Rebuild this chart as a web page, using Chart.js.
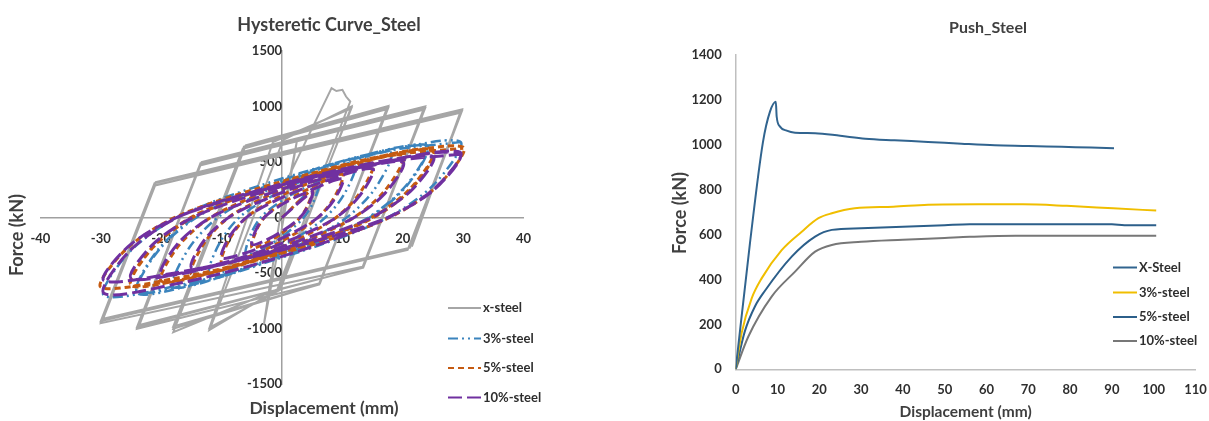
<!DOCTYPE html>
<html>
<head>
<meta charset="utf-8">
<script src="https://cdn.jsdelivr.net/npm/chart.js@4.4.1/dist/chart.umd.min.js"></script>
<style>
  body { margin: 0; background: #fff; }
  #wrap { position: relative; width: 1209px; height: 421px; }
  canvas { position: absolute; top: 0; }
</style>
</head>
<body>
<div id="wrap">
  <canvas id="hyst" width="600" height="421" style="left:0"></canvas>
  <canvas id="push" width="609" height="421" style="left:600px"></canvas>
</div>
<script>
// ---- hysteretic curves (displacement mm / force kN)
const xSteelDisp = [0, 2.5, -0.5, -3, 0.5, 8.2, 9.0, 10.0, 10.6, 11.3, -0.8, -12, 0.2, 11.5, -0.3, -12, -1.5, 11.5, -0.5, -18, -6, 17.6, 6.1, -18, -6.3, 17.6, 6.2, -18, -6.5, 17.3, 6.3, -24, -13.3, 23.7, 13.3, -24, -13.5, 23.7, 13.45, -23.6, -13.6, 23.4, 13.5, -30, -20.9, 29.8, 20.8, -30, -21.1, 29.8, 21.2, -29.6, -21, 29.5, 21.5];
const xSteelForce = [0, 700, -250, -960, 300, 1166, 1140, 1150, 1090, 1045, -650, -1010, 700, 1000, -650, -990, 680, 985, -640, -1030, 650, 1005, -600, -1000, 640, 990, -600, -980, 620, 975, -590, -1000, 500, 1000, -450, -985, 490, 985, -450, -965, 470, 970, -440, -950, 320, 975, -290, -930, 310, 960, -270, -910, 290, 945, -260];

const steel3Disp = [0, 6, 5.1, 3.3, -0.3, -3.6, -6, -5.1, -3.3, 0.3, 3.6, 12, 10.2, 6.6, -0.6, -7.2, -12, -10.2, -6.6, 0.6, 7.2, 18, 15.3, 9.9, -0.9, -10.8, -18, -15.3, -9.9, 0.9, 10.8, 24, 20.4, 13.2, -1.2, -14.4, -24, -20.4, -13.2, 1.2, 14.4, 24, 20.4, 13.2, -1.2, -14.4, -24, -20.4, -13.2, 1.2, 14.4, 29.5, 25.1, 16.2, -1.5, -17.7, -29.5, -25.1, -16.2, 1.5, 17.7, 29.5];
const steel3Force = [0, 300, 129, -17, -182, -290, -330, -142, 15, 165, 264, 470, 202, -25, -275, -440, -500, -215, 24, 259, 414, 590, 254, -31, -341, -546, -620, -267, 30, 325, 519, 650, 280, -34, -374, -598, -680, -292, 33, 358, 572, 635, 270, -40, -360, -585, -665, -280, 40, 345, 560, 685, 295, -35, -385, -616, -700, -301, 34, 377, 603, 680];

const steel5Disp = [0, 5, 4.25, 2.75, -0.25, -3, -5, -4.25, -2.75, 0.25, 3, 10, 8.5, 5.5, -0.5, -6, -10, -8.5, -5.5, 0.5, 6, 15, 12.75, 8.25, -0.75, -9, -15, -12.75, -8.25, 0.75, 9, 20, 17, 11, -1, -12, -20, -17, -11, 1, 12, 25, 21.25, 13.75, -1.25, -15, -25, -21.25, -13.75, 1.25, 15, 25, 21.25, 13.75, -1.25, -15, -25, -21.25, -13.75, 1.25, 15, 30, 25.5, 16.5, -1.5, -18, -30, -25.5, -16.5, 1.5, 18, 30];
const steel5Force = [0, 250, 108, -14, -149, -238, -270, -116, 13, 138, 220, 390, 168, -21, -226, -361, -410, -176, 20, 215, 343, 490, 211, -26, -281, -449, -510, -219, 25, 270, 431, 560, 241, -29, -314, -502, -570, -245, 28, 308, 493, 610, 262, -31, -336, -537, -610, -262, 31, 336, 537, 595, 250, -40, -325, -525, -600, -255, 40, 325, 525, 635, 273, -31, -344, -550, -625, -269, 32, 349, 559, 625];

const steel10Disp = [0, 5, 4.25, 2.75, -0.25, -3, -5, -4.25, -2.75, 0.25, 3, 10, 8.5, 5.5, -0.5, -6, -10, -8.5, -5.5, 0.5, 6, 15, 12.75, 8.25, -0.75, -9, -15, -12.75, -8.25, 0.75, 9, 20, 17, 11, -1, -12, -20, -17, -11, 1, 12, 25, 21.25, 13.75, -1.25, -15, -25, -21.25, -13.75, 1.25, 15, 29.5, 25.1, 16.2, -1.5, -17.7, -29.5, -25.1, -16.2, 1.5, 17.7, 29.5, 25.1, 16.2, -1.5, -17.7, -29.5, -25.1, -16.2, 1.5, 17.7, 29.5];
const steel10Force = [0, 230, 99, -12, -132, -211, -240, -103, 12, 127, 202, 350, 151, -18, -198, -317, -360, -155, 18, 193, 308, 440, 189, -23, -248, -396, -450, -194, 22, 242, 387, 500, 215, -26, -281, -449, -510, -219, 25, 275, 440, 550, 237, -27, -300, -480, -545, -234, 28, 303, 484, 590, 254, -34, -374, -598, -680, -292, 30, 325, 519, 575, 247, -28, -311, -497, -565, -243, 29, 316, 506, 570];

// ---- pushover curves
const pushXDisp = [0, 3.4, 6.5, 8.2, 9.6, 9.8, 10.6, 12.2, 14.2, 19, 25, 31, 38, 46, 54, 62, 70, 78, 85, 90.5];
const pushXForce = [0, 560, 1010, 1148, 1192, 1126, 1081, 1063, 1054, 1052, 1040, 1027, 1020, 1013, 1005, 998, 995, 991, 988, 985];
const push3Disp = [0, 1.4, 3.8, 6.2, 11, 15.8, 19.8, 23, 28.5, 37.7, 46, 58, 68.7, 79.2, 90.3, 100.6];
const push3Force = [0, 160, 315, 405, 531, 613, 673, 695, 717, 724, 733, 735, 735, 728, 717, 707];
const push5Disp = [0, 2.2, 4.6, 7.0, 13.4, 19, 23, 30, 40, 50, 56, 70, 90, 93, 100.6];
const push5Force = [0, 170, 280, 350, 502, 591, 621, 628, 635, 642, 646, 646, 646, 642, 642];
const push10Disp = [0, 3, 8.6, 14.2, 19, 23, 30, 40, 50, 56, 67, 100.6];
const push10Force = [0, 145, 324, 435, 524, 554, 568, 577, 585, 590, 595, 595];

const FONT = 'Lato, "Open Sans", sans-serif';
const TXT = '#2e2e2e';
const TITLE = '#3f3f3f';

function pts(xs, ys) {
    return xs.map((x, i) => ({ x: x, y: ys[i] }));
}

// titles, axis names and the small legend, drawn where the original has them
const freeText = {
    id: 'freeText',
    afterDraw(chart, args, opts) {
        const ctx = chart.ctx;
        ctx.save();
        ctx.textBaseline = 'middle';
        for (const t of opts.texts) {
            ctx.save();
            ctx.fillStyle = TITLE;
            ctx.font = 'bold ' + t.size + 'px ' + FONT;
            ctx.textAlign = 'center';
            ctx.translate(t.x, t.y);
            if (t.rotate) ctx.rotate(-Math.PI / 2);
            ctx.fillText(t.text, 0, 0);
            ctx.restore();
        }
        const lg = opts.legend;
        ctx.fillStyle = TXT;
        ctx.font = 'bold ' + lg.size + 'px ' + FONT;
        ctx.textAlign = 'left';
        chart.data.datasets.forEach((ds, i) => {
            const y = lg.rows[i];
            ctx.save();
            ctx.strokeStyle = ds.borderColor;
            ctx.lineWidth = lg.lineWidth;
            ctx.setLineDash(ds.borderDash || []);
            ctx.beginPath();
            ctx.moveTo(lg.x1, y);
            ctx.lineTo(lg.x2, y);
            ctx.stroke();
            ctx.restore();
            ctx.fillText(ds.label, lg.x2 + 2, y);
        });
        ctx.restore();
    }
};

function line(label, data, color, dash, width, order, extra) {
    return Object.assign({
        label: label,
        data: data,
        showLine: true,
        borderColor: color,
        backgroundColor: color,
        borderDash: dash,
        borderWidth: width,
        pointRadius: 0,
        order: order
    }, extra || {});
}

const tickFont = { family: FONT, size: 13, weight: 'bold' };
const plain = (v) => String(v);
// keep the chart area exactly where the layout padding puts it
function noEdgePad(scale) {
    scale.paddingLeft = 0;
    scale.paddingRight = 0;
    scale.paddingTop = 0;
    scale.paddingBottom = 0;
}

new Chart(document.getElementById('hyst'), {
    type: 'scatter',
    data: {
        datasets: [
            line('x-steel', pts(xSteelDisp, xSteelForce), '#a6a6a6', [], 2, 4, { tension: 0 }),
            line('3%-steel', pts(steel3Disp, steel3Force), '#3b84bd', [10, 4, 2, 4, 2, 4], 2.5, 3, { tension: 0.3 }),
            line('5%-steel', pts(steel5Disp, steel5Force), '#c55a11', [6, 4], 3, 2, { tension: 0.3 }),
            line('10%-steel', pts(steel10Disp, steel10Force), '#7030a0', [14, 5], 3, 1, { tension: 0.3 })
        ]
    },
    options: {
        responsive: false,
        animation: false,
        layout: { padding: { left: 40.4, right: 76.4, top: 51, bottom: 36.7 } },
        scales: {
            x: {
                type: 'linear',
                min: -40, max: 40,
                position: { y: 0 },
                grid: { display: false, drawTicks: false },
                border: { color: '#a0a0a0', width: 1.5 },
                ticks: { stepSize: 10, padding: 13, color: TXT, font: tickFont, callback: plain },
                afterFit: noEdgePad
            },
            y: {
                type: 'linear',
                min: -1500, max: 1500,
                position: { x: 0 },
                grid: { display: false, drawTicks: false },
                border: { color: '#a0a0a0', width: 1.5 },
                ticks: { stepSize: 500, padding: 13, color: TXT, font: tickFont, callback: plain },
                afterFit: noEdgePad
            }
        },
        plugins: {
            legend: { display: false },
            tooltip: { enabled: false },
            freeText: {
                texts: [
                    { text: 'Hysteretic Curve_Steel', x: 329, y: 25, size: 18 },
                    { text: 'Force (kN)', x: 17, y: 235, size: 18, rotate: true },
                    { text: 'Displacement (mm)', x: 324, y: 408, size: 17.5 }
                ],
                legend: { x1: 448, x2: 481, rows: [308, 338.5, 368, 397.5], size: 13, lineWidth: 2 }
            }
        }
    },
    plugins: [freeText]
});

new Chart(document.getElementById('push'), {
    type: 'scatter',
    data: {
        datasets: [
            line('X-Steel', pts(pushXDisp, pushXForce), '#31648f', [], 2, 1),
            line('3%-steel', pts(push3Disp, push3Force), '#f0be00', [], 2, 2),
            line('5%-steel', pts(push5Disp, push5Force), '#2c5f8a', [], 2, 3),
            line('10%-steel', pts(push10Disp, push10Force), '#777777', [], 2, 4)
        ]
    },
    options: {
        responsive: false,
        animation: false,
        elements: { line: { cubicInterpolationMode: 'monotone' } },
        layout: { padding: { left: 0, right: 13.5, top: 55, bottom: 0 } },
        scales: {
            x: {
                type: 'linear',
                min: 0, max: 110,
                position: 'bottom',
                grid: { display: false, drawTicks: false },
                border: { color: '#bfbfbf', width: 1.5 },
                ticks: { stepSize: 10, padding: 13, color: TXT, font: tickFont, callback: plain },
                afterFit(scale) { noEdgePad(scale); scale.height = 51.7; }
            },
            y: {
                type: 'linear',
                min: 0, max: 1400,
                position: 'left',
                grid: { display: false, drawTicks: false },
                border: { color: '#bfbfbf', width: 1.5 },
                ticks: { stepSize: 200, padding: 14, color: TXT, font: tickFont, callback: plain },
                afterFit(scale) { noEdgePad(scale); scale.width = 135.7; }
            }
        },
        plugins: {
            legend: { display: false },
            tooltip: { enabled: false },
            freeText: {
                texts: [
                    { text: 'Push_Steel', x: 388, y: 28, size: 16 },
                    { text: 'Force (kN)', x: 80, y: 213, size: 18, rotate: true },
                    { text: 'Displacement (mm)', x: 365.6, y: 412, size: 15.5 }
                ],
                legend: { x1: 513, x2: 537, rows: [267.5, 292.5, 317, 341], size: 13, lineWidth: 2 }
            }
        }
    },
    plugins: [freeText]
});
</script>
</body>
</html>
